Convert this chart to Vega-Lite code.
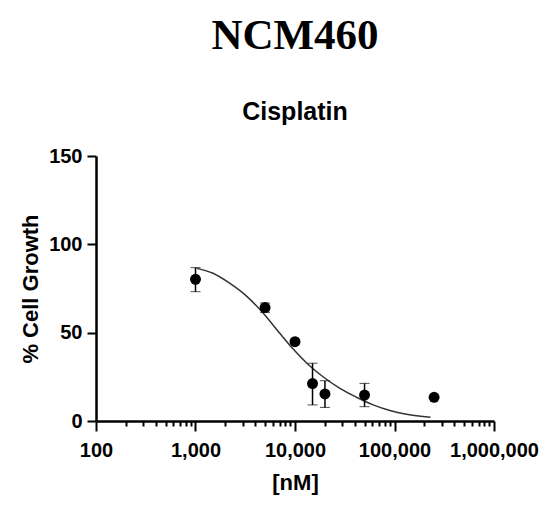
{
  "$schema": "https://vega.github.io/schema/vega-lite/v6.json",
  "width": 398,
  "height": 265,
  "autosize": {"type": "none"},
  "padding": {"left": 96, "top": 156, "right": 56, "bottom": 86},
  "background": "white",
  "title": {
    "text": "NCM460",
    "subtitle": "Cisplatin",
    "anchor": "middle",
    "font": "Liberation Serif",
    "fontSize": 43,
    "fontWeight": "bold",
    "color": "black",
    "subtitleFont": "Liberation Sans",
    "subtitleFontSize": 25,
    "subtitleFontWeight": "bold",
    "subtitleColor": "black",
    "subtitlePadding": 42,
    "offset": 21
  },
  "datasets": {
    "points": [
      {"conc": 1000, "growth": 80.2, "lo": 73.2, "hi": 86.8},
      {"conc": 5000, "growth": 64.2, "lo": 61.5, "hi": 66.8},
      {"conc": 10000, "growth": 44.9, "lo": null, "hi": null},
      {"conc": 15000, "growth": 21.2, "lo": 9.1, "hi": 32.7},
      {"conc": 20000, "growth": 15.3, "lo": 7.7, "hi": 22.8},
      {"conc": 50000, "growth": 14.7, "lo": 8.1, "hi": 21.3},
      {"conc": 250000, "growth": 13.4, "lo": null, "hi": null}
    ],
    "fit": [
      {"conc": 1030, "growth": 86.4},
      {"conc": 1500, "growth": 83.6},
      {"conc": 2200, "growth": 78.0},
      {"conc": 3300, "growth": 70.4},
      {"conc": 4800, "growth": 61.0},
      {"conc": 7000, "growth": 49.8},
      {"conc": 9500, "growth": 41.0},
      {"conc": 13000, "growth": 33.0},
      {"conc": 19000, "growth": 25.2},
      {"conc": 28000, "growth": 18.6},
      {"conc": 42000, "growth": 13.3},
      {"conc": 61000, "growth": 9.1},
      {"conc": 90000, "growth": 5.9},
      {"conc": 132000, "growth": 3.8},
      {"conc": 230000, "growth": 2.1}
    ]
  },
  "encoding": {
    "x": {
      "field": "conc",
      "type": "quantitative",
      "scale": {"type": "log", "domain": [100, 1000000], "nice": false},
      "axis": {
        "values": [100, 200, 300, 400, 500, 600, 700, 800, 900, 1000, 2000, 3000, 4000, 5000, 6000, 7000, 8000, 9000, 10000, 20000, 30000, 40000, 50000, 60000, 70000, 80000, 90000, 100000, 200000, 300000, 400000, 500000, 600000, 700000, 800000, 900000, 1000000],
        "labelExpr": "indexof([100, 1000, 10000, 100000, 1000000], datum.value) >= 0 ? format(datum.value, ',') : ''",
        "tickSize": {
          "condition": {"test": "indexof([100, 1000, 10000, 100000, 1000000], datum.value) >= 0", "value": 10},
          "value": 5
        },
        "labelOverlap": false,
        "labelFlush": false,
        "labelPadding": 9,
        "title": "[nM]",
        "titlePadding": 12
      }
    }
  },
  "layer": [
    {
      "data": {"name": "fit"},
      "mark": {"type": "line", "interpolate": "monotone", "color": "#333333", "strokeWidth": 1.5},
      "encoding": {
        "y": {
          "field": "growth",
          "type": "quantitative",
          "title": "% Cell Growth",
          "scale": {"domain": [0, 150], "nice": false},
          "axis": {
            "values": [0, 50, 100, 150],
            "tickSize": 9,
            "labelPadding": 5,
            "titlePadding": 6
          }
        }
      }
    },
    {
      "data": {"name": "points"},
      "transform": [{"filter": "isValid(datum.lo)"}],
      "mark": {
        "type": "errorbar",
        "color": "black",
        "ticks": {"size": 10, "color": "black", "strokeWidth": 1.5},
        "rule": {"color": "black", "strokeWidth": 1.5}
      },
      "encoding": {
        "y": {"field": "lo", "type": "quantitative", "title": "% Cell Growth"},
        "y2": {"field": "hi"}
      }
    },
    {
      "data": {"name": "points"},
      "mark": {"type": "circle", "size": 120, "color": "black", "opacity": 1},
      "encoding": {
        "y": {"field": "growth", "type": "quantitative", "title": "% Cell Growth"}
      }
    }
  ],
  "config": {
    "view": {"stroke": null},
    "axis": {
      "grid": false,
      "domainColor": "black",
      "domainWidth": 2.5,
      "tickColor": "black",
      "tickWidth": 2,
      "labelFont": "Liberation Sans",
      "labelFontSize": 20,
      "labelFontWeight": "bold",
      "labelColor": "black",
      "titleFont": "Liberation Sans",
      "titleFontSize": 22,
      "titleFontWeight": "bold",
      "titleColor": "black"
    }
  }
}
